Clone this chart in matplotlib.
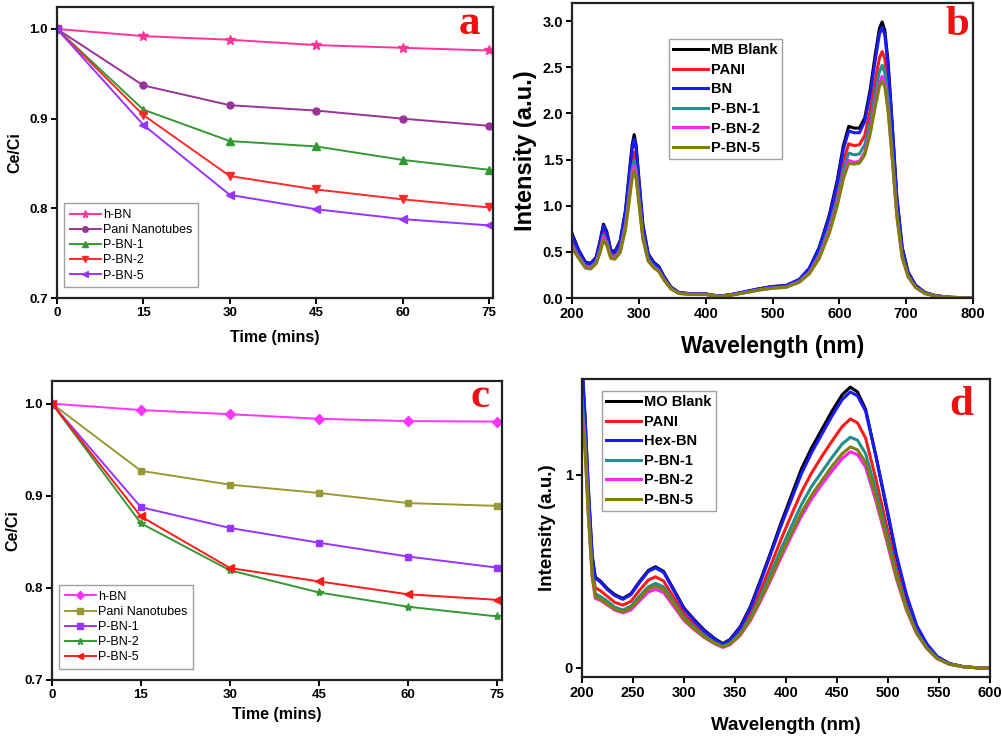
import numpy as np
import matplotlib.pyplot as plt

plt.rcParams['font.family'] = ['Liberation Sans', 'DejaVu Sans']

# ---- panel a / c : kinetics ----
time = [0, 15, 30, 45, 60, 75]

a_names = ['h-BN', 'Pani Nanotubes', 'P-BN-1', 'P-BN-2', 'P-BN-5']
a_hbn = [1.0, 0.992, 0.988, 0.982, 0.979, 0.976]
a_pani = [1.0, 0.937, 0.915, 0.909, 0.900, 0.892]
a_pbn1 = [1.0, 0.910, 0.875, 0.869, 0.854, 0.843]
a_pbn2 = [1.0, 0.904, 0.836, 0.821, 0.810, 0.801]
a_pbn5 = [1.0, 0.893, 0.815, 0.799, 0.788, 0.781]

c_names = ['h-BN', 'Pani Nanotubes', 'P-BN-1', 'P-BN-2', 'P-BN-5']
c_hbn = [1.0, 0.993, 0.9885, 0.9835, 0.981, 0.9805]
c_pani = [1.0, 0.927, 0.912, 0.903, 0.892, 0.889]
c_pbn1 = [1.0, 0.8875, 0.865, 0.849, 0.834, 0.822]
c_pbn2 = [1.0, 0.870, 0.819, 0.795, 0.7795, 0.769]
c_pbn5 = [1.0, 0.8775, 0.8215, 0.807, 0.793, 0.787]

# ---- panel b : MB spectra ----
wl_b = [200, 210, 220, 228, 236, 242, 247, 252, 258, 264, 272, 280, 286, 290,
        293, 296, 300, 306, 314, 322, 330, 338, 348, 360, 380, 400, 420, 440,
        460, 480, 500, 520, 540, 555, 570, 585, 597, 606, 614, 622, 630, 638,
        646, 654, 660, 664, 668, 673, 679, 686, 694, 703, 714, 728, 745, 765, 800]
b_names = ['MB Blank', 'PANI', 'BN', 'P-BN-1', 'P-BN-2', 'P-BN-5']
b_mb = [0.70, 0.52, 0.39, 0.375, 0.44, 0.62, 0.80, 0.72, 0.52, 0.50, 0.62, 0.95, 1.38, 1.66,
        1.77, 1.65, 1.30, 0.80, 0.48, 0.39, 0.34, 0.23, 0.12, 0.06, 0.045, 0.045, 0.02, 0.04,
        0.07, 0.10, 0.125, 0.135, 0.20, 0.32, 0.55, 0.90, 1.28, 1.65, 1.86, 1.84, 1.84, 1.95,
        2.25, 2.65, 2.92, 2.99, 2.90, 2.55, 1.90, 1.10, 0.55, 0.28, 0.14, 0.06, 0.025, 0.008, 0.0]
b_bn = [0.68, 0.51, 0.38, 0.37, 0.43, 0.60, 0.78, 0.70, 0.51, 0.49, 0.61, 0.93, 1.35, 1.62,
        1.72, 1.61, 1.27, 0.78, 0.47, 0.38, 0.33, 0.22, 0.115, 0.058, 0.044, 0.044, 0.02, 0.04,
        0.07, 0.10, 0.123, 0.133, 0.20, 0.32, 0.54, 0.88, 1.25, 1.61, 1.81, 1.79, 1.79, 1.91,
        2.20, 2.59, 2.86, 2.93, 2.85, 2.51, 1.87, 1.08, 0.54, 0.27, 0.135, 0.058, 0.024, 0.008, 0.0]
b_pani = [0.62, 0.48, 0.36, 0.35, 0.41, 0.56, 0.72, 0.65, 0.48, 0.46, 0.56, 0.85, 1.23, 1.48,
          1.58, 1.47, 1.16, 0.72, 0.44, 0.36, 0.31, 0.21, 0.11, 0.055, 0.042, 0.042, 0.018, 0.037,
          0.065, 0.093, 0.115, 0.125, 0.185, 0.295, 0.50, 0.82, 1.15, 1.48, 1.67, 1.65, 1.66, 1.76,
          2.02, 2.37, 2.60, 2.67, 2.59, 2.28, 1.70, 0.98, 0.49, 0.25, 0.125, 0.054, 0.022, 0.007, 0.0]
b_pbn1 = [0.58, 0.45, 0.345, 0.335, 0.39, 0.53, 0.68, 0.61, 0.455, 0.44, 0.53, 0.80, 1.16, 1.40,
          1.49, 1.39, 1.10, 0.68, 0.42, 0.345, 0.30, 0.20, 0.105, 0.052, 0.04, 0.04, 0.017, 0.035,
          0.062, 0.09, 0.11, 0.12, 0.18, 0.28, 0.47, 0.77, 1.08, 1.39, 1.57, 1.55, 1.56, 1.66,
          1.90, 2.23, 2.45, 2.52, 2.44, 2.15, 1.60, 0.93, 0.46, 0.24, 0.12, 0.05, 0.021, 0.007, 0.0]
b_pbn2 = [0.56, 0.44, 0.335, 0.325, 0.38, 0.51, 0.66, 0.59, 0.44, 0.43, 0.51, 0.77, 1.11, 1.34,
          1.43, 1.33, 1.05, 0.65, 0.405, 0.335, 0.29, 0.195, 0.10, 0.05, 0.039, 0.039, 0.016, 0.034,
          0.06, 0.088, 0.108, 0.118, 0.175, 0.27, 0.45, 0.73, 1.03, 1.32, 1.49, 1.47, 1.48, 1.58,
          1.81, 2.12, 2.33, 2.40, 2.33, 2.05, 1.53, 0.89, 0.44, 0.23, 0.115, 0.048, 0.02, 0.007, 0.0]
b_pbn5 = [0.54, 0.43, 0.325, 0.315, 0.37, 0.49, 0.63, 0.57, 0.43, 0.42, 0.49, 0.74, 1.07, 1.29,
          1.38, 1.29, 1.03, 0.64, 0.40, 0.33, 0.285, 0.19, 0.098, 0.048, 0.038, 0.038, 0.015, 0.033,
          0.058, 0.086, 0.105, 0.115, 0.17, 0.26, 0.43, 0.70, 1.00, 1.29, 1.46, 1.45, 1.46, 1.55,
          1.77, 2.08, 2.29, 2.35, 2.29, 2.02, 1.52, 0.89, 0.44, 0.23, 0.115, 0.048, 0.02, 0.007, 0.0]

# ---- panel d : MO spectra ----
wl_d = [200, 203, 206, 210, 213, 218, 225, 232, 240, 248, 256, 265, 272, 280, 290, 300,
        310, 320, 330, 338, 345, 355, 365, 375, 385, 395, 405, 415, 425, 435, 445, 455,
        463, 470, 478, 488, 498, 508, 518, 528, 538, 548, 560, 575, 590, 600]
d_names = ['MO Blank', 'PANI', 'Hex-BN', 'P-BN-1', 'P-BN-2', 'P-BN-5']
d_mo = [1.55, 1.29, 0.94, 0.58, 0.47, 0.45, 0.41, 0.38, 0.36, 0.385, 0.445, 0.505, 0.524, 0.50,
        0.405, 0.31, 0.25, 0.195, 0.152, 0.126, 0.147, 0.213, 0.317, 0.455, 0.60, 0.75, 0.89,
        1.03, 1.14, 1.235, 1.33, 1.415, 1.455, 1.43, 1.34, 1.10, 0.84, 0.58, 0.37, 0.215, 0.12,
        0.058, 0.022, 0.005, 0.0, 0.0]
d_hex = [1.60, 1.30, 0.95, 0.57, 0.465, 0.445, 0.405, 0.375, 0.355, 0.38, 0.44, 0.50, 0.518,
         0.495, 0.40, 0.305, 0.245, 0.19, 0.148, 0.122, 0.143, 0.208, 0.31, 0.445, 0.59, 0.735,
         0.87, 1.005, 1.115, 1.21, 1.305, 1.39, 1.43, 1.41, 1.33, 1.10, 0.85, 0.59, 0.38, 0.22,
         0.125, 0.06, 0.023, 0.005, 0.0, 0.0]
d_pani = [1.45, 1.22, 0.88, 0.52, 0.415, 0.40, 0.37, 0.34, 0.325, 0.345, 0.40, 0.455, 0.472,
          0.45, 0.365, 0.28, 0.225, 0.178, 0.14, 0.118, 0.135, 0.19, 0.28, 0.40, 0.53, 0.665,
          0.79, 0.91, 1.01, 1.095, 1.175, 1.25, 1.29, 1.27, 1.19, 0.98, 0.75, 0.52, 0.33, 0.195,
          0.11, 0.052, 0.02, 0.005, 0.0, 0.0]
d_pbn1 = [1.40, 1.18, 0.85, 0.49, 0.385, 0.37, 0.345, 0.315, 0.30, 0.32, 0.37, 0.42, 0.438,
          0.42, 0.34, 0.26, 0.21, 0.166, 0.132, 0.112, 0.128, 0.178, 0.26, 0.37, 0.49, 0.615,
          0.73, 0.845, 0.94, 1.015, 1.09, 1.16, 1.195, 1.18, 1.11, 0.92, 0.71, 0.49, 0.315, 0.185,
          0.105, 0.05, 0.02, 0.005, 0.0, 0.0]
d_pbn2 = [1.33, 1.14, 0.82, 0.47, 0.36, 0.35, 0.325, 0.30, 0.285, 0.30, 0.345, 0.393, 0.407,
          0.39, 0.318, 0.245, 0.198, 0.157, 0.125, 0.106, 0.12, 0.168, 0.245, 0.345, 0.455, 0.57,
          0.68, 0.785, 0.875, 0.95, 1.02, 1.085, 1.12, 1.105, 1.04, 0.865, 0.67, 0.465, 0.30,
          0.178, 0.10, 0.048, 0.019, 0.005, 0.0, 0.0]
d_pbn5 = [1.30, 1.12, 0.80, 0.475, 0.37, 0.355, 0.33, 0.305, 0.29, 0.31, 0.355, 0.41, 0.424,
          0.405, 0.33, 0.252, 0.203, 0.16, 0.128, 0.109, 0.123, 0.172, 0.25, 0.355, 0.465, 0.585,
          0.695, 0.805, 0.895, 0.97, 1.045, 1.11, 1.145, 1.13, 1.065, 0.885, 0.685, 0.475, 0.305,
          0.18, 0.102, 0.049, 0.019, 0.005, 0.0, 0.0]


def style_axes(ax, tick_size):
	for s in ax.spines.values():
		s.set_linewidth(1.6)
		s.set_color('#222222')
	ax.tick_params(direction='out', width=1.4, length=4, labelsize=tick_size, pad=2.5)
	for lab in ax.get_xticklabels() + ax.get_yticklabels():
		lab.set_fontweight('bold')


def panel_letter(ax, txt, x, y):
	ax.text(x, y, txt, transform=ax.transAxes, ha='center', va='center',
			fontsize=31, fontweight='bold', color='#ee1111', family='Liberation Serif')


def kinetics(ax, series, names, colors, markers, msizes, letter, lx, ly, xmax, xpad, ypad):
	for y, n, c, m, ms in zip(series, names, colors, markers, msizes):
		ax.plot(time, y, color=c, marker=m, markersize=ms, lw=1.4, label=n)
	ax.set_xlim(0, xmax)
	ax.set_ylim(0.7, 1.0245)
	ax.set_xticks(time)
	ax.set_yticks([0.7, 0.8, 0.9, 1.0])
	ax.set_xlabel('Time (mins)', fontsize=11.5, fontweight='bold', labelpad=xpad)
	ax.set_ylabel('Ce/Ci', fontsize=11.5, fontweight='bold', labelpad=ypad)
	style_axes(ax, 9.5)
	leg = ax.legend(loc='lower left', bbox_to_anchor=(0.016, 0.037), borderaxespad=0,
					fontsize=9, fancybox=False, edgecolor='#888888', handlelength=2.5,
					handletextpad=0.15, borderpad=0.45, labelspacing=0.25, markerscale=0.8)
	leg.get_frame().set_linewidth(1.0)
	panel_letter(ax, letter, lx, ly)


def main():
	fig = plt.figure(figsize=(10.03, 7.36), dpi=100)

	ax_a = fig.add_axes([0.0568, 0.5951, 0.4347, 0.3954])
	kinetics(ax_a, [a_hbn, a_pani, a_pbn1, a_pbn2, a_pbn5], a_names,
			 ['#ff3399', '#993399', '#339933', '#ff2a2a', '#9933ff'],
			 ['*', 'o', '^', 'v', '<'], [7, 5, 6, 6, 6], 'a', 0.947, 0.94, 75.7, 8, 5)

	ax_c = fig.add_axes([0.0518, 0.0761, 0.4487, 0.4062])
	kinetics(ax_c, [c_hbn, c_pani, c_pbn1, c_pbn2, c_pbn5], c_names,
			 ['#ff33ff', '#999933', '#9933ff', '#339933', '#ff1a1a'],
			 ['D', 's', 's', '*', '<'], [5, 5, 5, 6, 6], 'c', 0.951, 0.946, 75.84, 4, 3)

	ax_b = fig.add_axes([0.5703, 0.5951, 0.3998, 0.4008])
	b_series = [b_mb, b_pani, b_bn, b_pbn1, b_pbn2, b_pbn5]
	b_colors = ['#000000', '#ff1a1a', '#1a1aff', '#1f8f8f', '#ff22ff', '#808000']
	for y, n, c in zip(b_series, b_names, b_colors):
		ax_b.plot(wl_b, y, color=c, lw=2.2, label=n)
	ax_b.set_xlim(200, 800)
	ax_b.set_ylim(0, 3.195)
	ax_b.set_xticks([200, 300, 400, 500, 600, 700, 800])
	ax_b.set_yticks([0.0, 0.5, 1.0, 1.5, 2.0, 2.5, 3.0])
	ax_b.set_yticklabels(['0.0', '0.5', '1.0', '1.5', '2.0', '2.5', '3.0'])
	ax_b.set_xlabel('Wavelength (nm)', fontsize=16.5, fontweight='bold', labelpad=10)
	ax_b.set_ylabel('Intensity (a.u.)', fontsize=17, fontweight='bold', labelpad=4)
	style_axes(ax_b, 10.5)
	leg = ax_b.legend(loc='upper left', bbox_to_anchor=(0.242, 0.878), borderaxespad=0,
					  prop={'weight': 'bold', 'size': 10.5}, fancybox=False,
					  edgecolor='#888888', handlelength=2.4, handletextpad=0.2,
					  borderpad=0.3, labelspacing=0.38)
	leg.get_frame().set_linewidth(1.0)
	panel_letter(ax_b, 'b', 0.96, 0.925)

	ax_d = fig.add_axes([0.5803, 0.0802, 0.4068, 0.4049])
	d_series = [d_mo, d_pani, d_hex, d_pbn1, d_pbn2, d_pbn5]
	d_colors = ['#000000', '#ff1a1a', '#1a1aff', '#1f8f8f', '#ff22ff', '#808000']
	for y, n, c in zip(d_series, d_names, d_colors):
		ax_d.plot(wl_d, y, color=c, lw=2.2, label=n)
	ax_d.set_xlim(200, 600)
	ax_d.set_ylim(-0.047, 1.497)
	ax_d.set_xticks([200, 250, 300, 350, 400, 450, 500, 550, 600])
	ax_d.set_yticks([0, 1])
	ax_d.set_xlabel('Wavelength (nm)', fontsize=13.5, fontweight='bold', labelpad=12)
	ax_d.set_ylabel('Intensity (a.u.)', fontsize=13.5, fontweight='bold', labelpad=6)
	style_axes(ax_d, 10.5)
	leg = ax_d.legend(loc='upper left', bbox_to_anchor=(0.049, 0.96), borderaxespad=0,
					  prop={'weight': 'bold', 'size': 10.5}, fancybox=False,
					  edgecolor='#888888', handlelength=2.4, handletextpad=0.2,
					  borderpad=0.3, labelspacing=0.38)
	leg.get_frame().set_linewidth(1.0)
	panel_letter(ax_d, 'd', 0.929, 0.913)

	fig.savefig('out.png', dpi=100)


if __name__ == '__main__':
	main()
